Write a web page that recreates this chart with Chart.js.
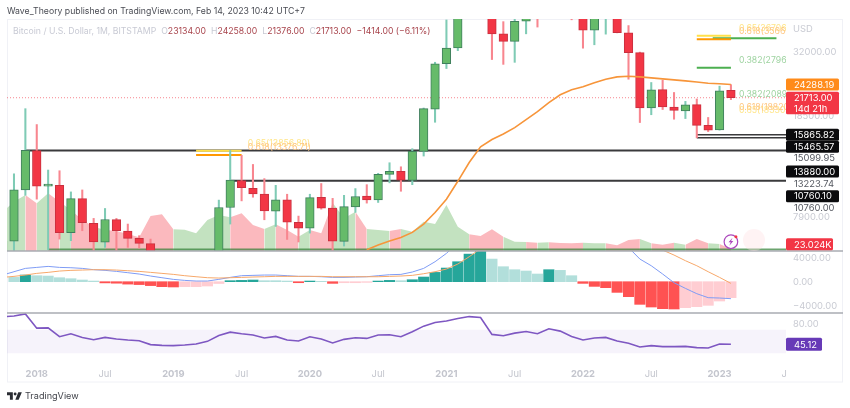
<!DOCTYPE html>
<html>
<head>
<meta charset="utf-8">
<title>Bitcoin / U.S. Dollar, 1M</title>
<script src="https://cdn.jsdelivr.net/npm/chart.js@4"></script>
<style>
  html, body { margin: 0; background: #fff; }
  body { width: 850px; height: 408px; position: relative; overflow: hidden; font-family: Inter, sans-serif; }
  canvas { position: absolute; left: 0; top: 0; }
  .line { position: absolute; white-space: nowrap; }
  #title { left: 7px; top: 5px; font-size: 8.7px; line-height: 12px; color: #4a4c54; }
  #legend { left: 13px; top: 25px; font-size: 8.7px; line-height: 12px; color: #c8cad4; }
  #legend b { font-weight: 400; color: #a8444c; }
  #legend span { margin-left: 5px; }
  #brand { left: 25px; top: 389px; font-size: 9.1px; line-height: 14px; color: #43454c; }
  #logo { position: absolute; left: 7px; top: 392px; }
</style>
</head>
<body>
<canvas id="chart" width="850" height="408"></canvas>
<div class="line" id="title">Wave_Theory published on TradingView.com, Feb 14, 2023 10:42 UTC+7</div>
<div class="line" id="legend">Bitcoin / U.S. Dollar, 1M, BITSTAMP<span>O<b>23134.00</b></span><span>H<b>24258.00</b></span><span>L<b>21376.00</b></span><span>C<b>21713.00</b></span><span><b>−1414.00 (−6.11%)</b></span></div>
<svg id="logo" width="15" height="8" viewBox="0 0 36 18"><path fill="#2a2c33" d="M14 18H7V7H0V0h14zM28 18h-8L27 0h8.600zM16 4a3.500 3.500 0 1 0 7 0 3.500 3.500 0 0 0-7 0z"/></svg>
<div class="line" id="brand">TradingView</div>
<script>
// monthly bars, one leading month sits just off the left edge
const months = ['Oct 2017','Nov 2017','Dec 2017',
  'Jan 2018','Feb 2018','Mar 2018','Apr 2018','May 2018','Jun 2018','Jul 2018','Aug 2018','Sep 2018','Oct 2018','Nov 2018','Dec 2018',
  'Jan 2019','Feb 2019','Mar 2019','Apr 2019','May 2019','Jun 2019','Jul 2019','Aug 2019','Sep 2019','Oct 2019','Nov 2019','Dec 2019',
  'Jan 2020','Feb 2020','Mar 2020','Apr 2020','May 2020','Jun 2020','Jul 2020','Aug 2020','Sep 2020','Oct 2020','Nov 2020','Dec 2020',
  'Jan 2021','Feb 2021','Mar 2021','Apr 2021','May 2021','Jun 2021','Jul 2021','Aug 2021','Sep 2021','Oct 2021','Nov 2021','Dec 2021',
  'Jan 2022','Feb 2022','Mar 2022','Apr 2022','May 2022','Jun 2022','Jul 2022','Aug 2022','Sep 2022','Oct 2022','Nov 2022','Dec 2022',
  'Jan 2023','Feb 2023'];

const opens = [4330,6440,9950,
  13880,10265,10340,6930,9245,7500,6390,7730,7020,6600,6310,4020,
  3740,3430,3820,4100,5270,8570,10770,10080,9600,8300,9150,7560,
  7190,9340,8520,6430,8620,9440,9140,11350,11650,10780,13780,19700,
  28950,33100,45200,58800,57700,37300,35000,41500,47100,43800,61300,57000,
  46200,38500,43200,45500,37650,31800,19900,23250,20050,19420,20480,17170,
  16530,23134];
const highs = [6470,11400,19790,
  17300,11770,11700,9780,9945,7815,8500,7815,7450,6750,6560,4360,
  4070,4200,4100,5600,9125,13880,13330,12340,10945,10340,9590,7970,
  9590,10500,9260,9500,10060,10400,11450,12520,12100,14100,19900,29320,
  41950,58300,61800,65000,59500,41350,42600,50500,52900,67000,69000,59000,
  47900,45800,48200,47400,40000,31950,24700,25200,22700,21050,21480,18370,
  23950,24258];
const lows = [4100,5555,9500,
  9200,6000,6560,6470,7040,5750,6115,5880,6115,6080,3480,3122,
  3350,3370,3690,4100,5270,7450,9065,9350,7725,7300,6540,6400,
  6900,8450,3850,6185,8220,8895,8945,10560,9835,10400,13250,17640,
  27800,32350,45000,47000,30000,28800,29300,37300,39500,43300,53500,42000,
  33030,34000,37200,37600,25400,17600,18800,19650,18100,18200,15465,16300,
  16500,21376];
const closes = [6440,9950,13900,
  10265,10320,6930,9245,7530,6410,7745,7040,6600,6325,4020,3740,
  3430,3820,4100,5270,8570,10800,10130,9610,8330,9140,7570,7190,
  9320,8520,6450,8640,9410,9140,11350,11640,10800,13780,19790,28950,
  33030,45200,58800,57700,37300,35000,41500,47100,43800,61300,57000,46200,
  38500,43200,45500,37650,31800,19900,23200,20100,19520,20450,17170,16480,
  23030,21713];

// EMA only starts in Jun 2020
const emaStart = 32;
const ema = [5995,6240,6450,6650,6943,7450,8220,9195,10700,12550,14320,15240,15970,16860,18040,19300,
  20820,22270,23230,23810,24640,25410,25900,26050,25900,25680,25470,25260,25050,24790,24540,24440,24288];

// thousands of BTC
const volume = [468,592,672,572,692,592,492,372,292,252,240,204,164,420,440,
  260,256,212,372,432,404,452,312,264,320,252,172,
  252,212,580,392,472,264,252,240,264,232,352,324,
  552,292,200,180,260,172,112,108,100,104,96,92,
  100,92,92,68,132,144,92,76,100,76,144,92,
  84,23];
const volumeBase = [18,18];
const volumeBaseIdx = [4,68.84];

const macdHist = [null,720,1110,1000,940,665,500,280,110,-200,-250,-400,-480,-650,-830,
  -880,-830,-830,-720,-300,170,220,280,170,170,110,-170,
  110,60,-280,-170,-170,-110,110,220,170,330,780,1550,
  2275,3330,4600,5300,3775,2500,2000,1780,1280,2000,1890,1000,
  -280,-780,-1000,-1780,-2500,-3775,-4220,-4500,-4550,-4330,-4160,-3940,
  -3220,-2660];
const macdLine = [1110,1665,2220,2385,2550,2385,2330,2220,2000,1890,1720,1500,1275,945,665,
  390,220,110,110,390,720,1000,1055,1110,1110,1000,890,
  890,830,720,720,780,830,1000,1165,1220,1610,2220,3330,
  4720,6500,8500,10000,10800,10500,10000,9900,9700,10000,10100,9700,
  9000,8600,8300,7700,5700,3775,2660,1280,-170,-1110,-2000,-2660,
  -2720,-2830];
const signalLine = [720,890,1110,1390,1555,1775,1890,1940,2000,2000,1940,1830,1720,1555,1390,
  1220,1000,830,665,610,665,720,780,830,890,890,890,
  890,890,830,830,830,830,830,890,945,1055,1330,1665,
  2110,2940,4160,5500,7000,8000,8500,9000,9300,9500,9700,9700,
  9600,9300,9000,8500,7900,7100,6200,5270,4440,3500,2660,1665,
  720,-280];

const rsi = [92,93.5,96.9,72.7,73.2,58.1,63.1,56.9,53,56.9,54.1,52.4,51.3,44.6,43.4,
  42.9,44,45.7,50.2,60.3,65.9,63.1,60.9,55.8,58.6,52.4,50.7,
  58.1,54.1,47.4,53.6,56.4,55.2,60.9,61.4,58.1,66.5,76.1,82.3,
  85,89,92.4,90.7,62,59.7,64.2,67,63.1,71.6,67.6,58.6,
  52.4,55.8,56.9,50.7,46.8,40.6,42.9,41.2,41.2,41.7,39.5,38.9,
  45.7,45.12];
const rsiBandTop = 70;
const rsiBandBottom = 30;

const priceTicks = [32000,18500,7900];
const macdTicks = [4000,0,-4000];
const rsiTicks = [80];

// horizontal levels: price, first and last bar index
const supportPrices = [13880,10760,15865.82,15465.57];
const supportFrom = [2,20,61,61];
const fibPrices = [13856.8,13376.71,36706,35660,35900,27960];
const fibFrom = [17,17,61,61,62.4,61];
const fibTo = [21,21,64,64,68,64];
const fibColors = ['#ffe04a','#ff9800','#ffe04a','#ff9800','#4caf50','#4caf50'];
const fibTexts = ['0.65(13856.80)','0.618(13376.71)','0.65(36706.00)','0.618(35660.00)','0.382(27960.00)','0.382(20890.00)','0.65(18330.00)','0.618(18820.00)'];
const fibTextPrices = [13856.8,13376.71,36706,35660,27960,20890,18330,18820];
const fibTextFrom = [21.55,21.55,64.7,64.7,64.7,64.7,64.7,64.7];
const fibTextColors = ['#ffe588','#ffc680','#ffe588','#ffc680','#9ed3a0','#9ed3a0','#ffe588','#ffc680'];

const lastPrice = 21713;

const axisMin = 0.385, axisMax = 68.84;
const bull = i => closes[i] >= opens[i];
const pts = (arr, start = 0) => arr.map((y, i) => ({ x: i + start, y }));
const hline = (y, a, b) => [{ x: a, y }, { x: b, y }];

const macdColor = i => {
  const h = macdHist[i], prev = macdHist[i - 1] ?? h;
  if (h >= 0) return h > prev ? '#26a69a' : '#b2dfdb';
  return h < prev ? '#ff5252' : '#ffcdd2';
};

const datasets = [
  {
    type: 'line', label: 'Volume', yAxisID: 'yVol', order: 30,
    data: pts(volume), fill: { value: 0 }, borderWidth: 0, pointRadius: 0, tension: 0,
    backgroundColor: '#c3e2c0',
    segment: { backgroundColor: c => bull(c.p1DataIndex) ? '#c3e2c0' : '#fbb9be', borderColor: 'transparent' }
  },
  {
    type: 'line', label: 'Vol base', yAxisID: 'yVol', order: 29,
    data: volumeBaseIdx.map((x, i) => ({ x, y: volumeBase[i] })),
    borderColor: 'rgba(46,125,50,0.7)', borderWidth: 2, pointRadius: 0
  },
  {
    type: 'line', label: 'Last', yAxisID: 'yPrice', order: 28,
    data: hline(lastPrice, axisMin, axisMax),
    borderColor: 'rgba(242,54,69,0.6)', borderWidth: 1, borderDash: [1, 2], pointRadius: 0
  },
  ...supportPrices.map((p, i) => ({
    type: 'line', label: 'Support ' + p, yAxisID: 'yPrice', order: 27,
    data: hline(p, supportFrom[i], axisMax),
    borderColor: '#3a3a3c', borderWidth: i < 2 ? 2 : 1.4, pointRadius: 0
  })),
  ...fibPrices.map((p, i) => ({
    type: 'line', label: 'Fib ' + p, yAxisID: 'yPrice', order: 26,
    data: hline(p, fibFrom[i], fibTo[i]),
    borderColor: fibColors[i], borderWidth: 2, pointRadius: 0
  })),
  {
    type: 'bar', label: 'Wicks', yAxisID: 'yPrice', order: 20, grouped: false, barThickness: 1.4,
    data: months.map((m, i) => ({ x: i, y: [lows[i], highs[i]] })),
    backgroundColor: months.map((m, i) => bull(i) ? '#7fcbb5' : '#f8868f')
  },
  {
    type: 'bar', label: 'Candles', yAxisID: 'yPrice', order: 19, grouped: false, barThickness: 8.6,
    data: months.map((m, i) => ({ x: i, y: [opens[i], closes[i]] })),
    backgroundColor: months.map((m, i) => bull(i) ? '#66bb6a' : '#f23645'),
    borderColor: months.map((m, i) => bull(i) ? '#3f7f5d' : '#c9303f'),
    borderWidth: 1, borderSkipped: false, minBarLength: 2
  },
  {
    type: 'line', label: 'EMA', yAxisID: 'yPrice', order: 10,
    data: pts(ema, emaStart), borderColor: '#f7953a', borderWidth: 1.6, pointRadius: 0, tension: 0
  },
  {
    type: 'bar', label: 'MACD hist', yAxisID: 'yMacd', order: 9, grouped: false, barThickness: 10.4,
    data: pts(macdHist),
    backgroundColor: months.map((m, i) => macdColor(i))
  },
  {
    type: 'line', label: 'MACD', yAxisID: 'yMacd', order: 8,
    data: pts(macdLine), borderColor: '#7f9cf5', borderWidth: 1, pointRadius: 0, tension: 0
  },
  {
    type: 'line', label: 'Signal', yAxisID: 'yMacd', order: 7,
    data: pts(signalLine), borderColor: '#f7a86a', borderWidth: 1, pointRadius: 0, tension: 0
  },
  {
    type: 'line', label: 'RSI band', yAxisID: 'yRsi', order: 6,
    data: hline(rsiBandTop, axisMin, axisMax), fill: { value: rsiBandBottom },
    backgroundColor: 'rgba(126,87,194,0.07)', borderWidth: 0, pointRadius: 0
  },
  {
    type: 'line', label: 'RSI', yAxisID: 'yRsi', order: 5,
    data: pts(rsi), borderColor: '#7e57c2', borderWidth: 1.6, pointRadius: 0, tension: 0
  }
];

const AXIS_FONT = 'Inter, sans-serif';

function valueAxis(ticks, extra) {
  return Object.assign({
    position: 'right',
    stack: 'panes',
    grid: { display: false, drawTicks: false },
    border: { display: false },
    afterFit: s => { s.width = 57; },
    afterBuildTicks: s => { s.ticks = ticks.map(value => ({ value })); },
    ticks: {
      padding: 7, color: '#c9cbd3', autoSkip: false, font: { family: AXIS_FONT, size: 9.4 },
      callback: v => v.toFixed(2).replace('-', '−')
    }
  }, extra);
}

// tags on the price scale, dy moves them off each other as TradingView does
const tagText = ['24288.19','15865.82','15465.57','13880.00','10760.10'];
const tagPrices = [24288.19,15865.82,15465.57,13880,10760.1];
const tagShift = [0,0,9,21,15.5];
const tagFill = ['#ff8b1a','#0b0b0d','#0b0b0d','#0b0b0d','#0b0b0d'];
const greyText = ['15099.95','13223.74','10760.00'];
const greyPrices = [15099.95,13223.74,10760];
const greyShift = [18,28,28];

const panes = {
  id: 'panes',
  // the volume overlay shares the price pane
  afterLayout(chart) {
    const v = chart.scales.yVol, p = chart.scales.yPrice;
    v.top = p.top; v.bottom = p.bottom; v.height = p.height;
    v.configure();
  },
  beforeDraw(chart) {
    const { ctx } = chart;
    ctx.save();
    ctx.strokeStyle = '#f0f1f6';
    ctx.lineWidth = 1;
    ctx.strokeRect(7.5, 19.5, 835, 362.5);
    ctx.restore();
  },
  afterDraw(chart) {
    const { ctx, chartArea, scales } = chart;
    const xs = scales.x, yP = scales.yPrice;
    ctx.save();

    // pane separators
    ctx.strokeStyle = '#a9abb2';
    ctx.lineWidth = 1.4;
    [scales.yPrice.bottom, scales.yMacd.bottom].forEach(y => {
      ctx.beginPath(); ctx.moveTo(7, y); ctx.lineTo(843, y); ctx.stroke();
    });

    // fib labels, cut by the right edge of the plot
    ctx.save();
    ctx.beginPath();
    ctx.rect(chartArea.left, chartArea.top, chartArea.right - chartArea.left, 300);
    ctx.clip();
    ctx.font = '8.7px ' + AXIS_FONT;
    ctx.textAlign = 'left';
    ctx.textBaseline = 'middle';
    fibTexts.forEach((t, i) => {
      ctx.fillStyle = fibTextColors[i];
      ctx.fillText(t, xs.getPixelForValue(fibTextFrom[i]), yP.getPixelForValue(fibTextPrices[i]) - 7.5);
    });
    ctx.restore();

    // USD and plain value labels
    const tx = chartArea.right + 8;
    ctx.font = '9.4px ' + AXIS_FONT;
    ctx.textAlign = 'left';
    ctx.textBaseline = 'middle';
    ctx.fillStyle = '#c9cbd3';
    ctx.fillText('USD', tx - 1, 29);
    ctx.fillStyle = '#555860';
    greyText.forEach((t, i) => ctx.fillText(t, tx, yP.getPixelForValue(greyPrices[i]) + greyShift[i]));

    const tag = (x, y, w, h, fill, lines) => {
      ctx.fillStyle = fill;
      ctx.beginPath(); ctx.roundRect(x, y, w, h, 1.5); ctx.fill();
      ctx.fillStyle = '#fff';
      lines.forEach((t, i) => ctx.fillText(t, x + 8, y + h / lines.length * (i + 0.5) + 0.5));
    };
    tagText.forEach((t, i) => {
      const y = yP.getPixelForValue(tagPrices[i]) + tagShift[i];
      tag(chartArea.right, y - 6, 53, 12, tagFill[i], [t]);
    });
    tag(chartArea.right, yP.getPixelForValue(lastPrice) - 6, 53, 22.5, '#f23645', ['21713.00', '14d 21h']);
    tag(chartArea.right, 238.3, 47, 12, '#f23645', ['23.024K']);
    tag(chartArea.right, scales.yRsi.getPixelForValue(rsi[rsi.length - 1]) - 6.5, 36, 13, '#673ab7', ['45.12']);

    // alert badge over the last bar
    const bx = xs.getPixelForValue(months.length - 1), by = 241.7;
    ctx.fillStyle = 'rgba(255,225,228,0.4)';
    ctx.beginPath(); ctx.arc(754, 240, 11, 0, Math.PI * 2); ctx.fill();
    ctx.fillStyle = '#fff';
    ctx.strokeStyle = '#ab47bc';
    ctx.lineWidth = 1.2;
    ctx.beginPath(); ctx.arc(bx, by, 6.8, 0, Math.PI * 2); ctx.fill(); ctx.stroke();
    ctx.fillStyle = '#ab47bc';
    ctx.beginPath();
    ctx.moveTo(bx + 1.6, by - 4); ctx.lineTo(bx - 2.4, by + 0.6); ctx.lineTo(bx - 0.2, by + 0.6);
    ctx.lineTo(bx - 1.6, by + 4); ctx.lineTo(bx + 2.4, by - 0.8); ctx.lineTo(bx + 0.2, by - 0.8);
    ctx.closePath(); ctx.fill();
    ctx.fillStyle = '#f23645';
    ctx.beginPath(); ctx.arc(bx + 5, by - 5, 1.5, 0, Math.PI * 2); ctx.fill();
    ctx.restore();
  }
};

const monthTicks = months.map((m, i) => ({ m, i })).filter(o => /^(Jan|Jul)/.test(o.m));

new Chart(document.getElementById('chart').getContext('2d'), {
  data: { datasets },
  plugins: [panes],
  options: {
    responsive: false,
    animation: false,
    devicePixelRatio: 1,
    layout: { padding: { left: 7, top: 19, right: 7, bottom: 26 } },
    plugins: { legend: { display: false }, tooltip: { enabled: false } },
    scales: {
      x: {
        type: 'linear', min: axisMin, max: axisMax, offset: false,
        grid: { display: false, drawTicks: false, offset: false },
        border: { display: false },
        afterFit: s => { s.height = 20; },
        afterBuildTicks: s => {
          s.ticks = monthTicks.map(o => ({ value: o.i }));
          s.ticks.push({ value: 68.69 }); // next Jul is cut by the edge
        },
        ticks: {
          autoSkip: false, maxRotation: 0, padding: 7, color: '#c3c5cd',
          font: c => {
            const m = c.tick ? months[c.tick.value] : null;
            return { family: AXIS_FONT, size: 9.4, weight: m && m.startsWith('Jan') ? 'bold' : 'normal' };
          },
          callback: v => {
            const m = months[v];
            if (!m) return 'J';
            return m.startsWith('Jan') ? m.slice(4) : 'Jul';
          }
        }
      },
      yPrice: valueAxis(priceTicks, { type: 'logarithmic', min: 5930, max: 42290, stackWeight: 232, weight: 1 }),
      yMacd: valueAxis(macdTicks, { type: 'linear', min: -5217, max: 5117, stackWeight: 62, weight: 2 }),
      yRsi: valueAxis(rsiTicks, { type: 'linear', min: 15, max: 98.5, stackWeight: 49, weight: 3 }),
      yVol: { type: 'linear', display: false, min: 0, max: 2784 }
    }
  }
});
</script>
</body>
</html>
